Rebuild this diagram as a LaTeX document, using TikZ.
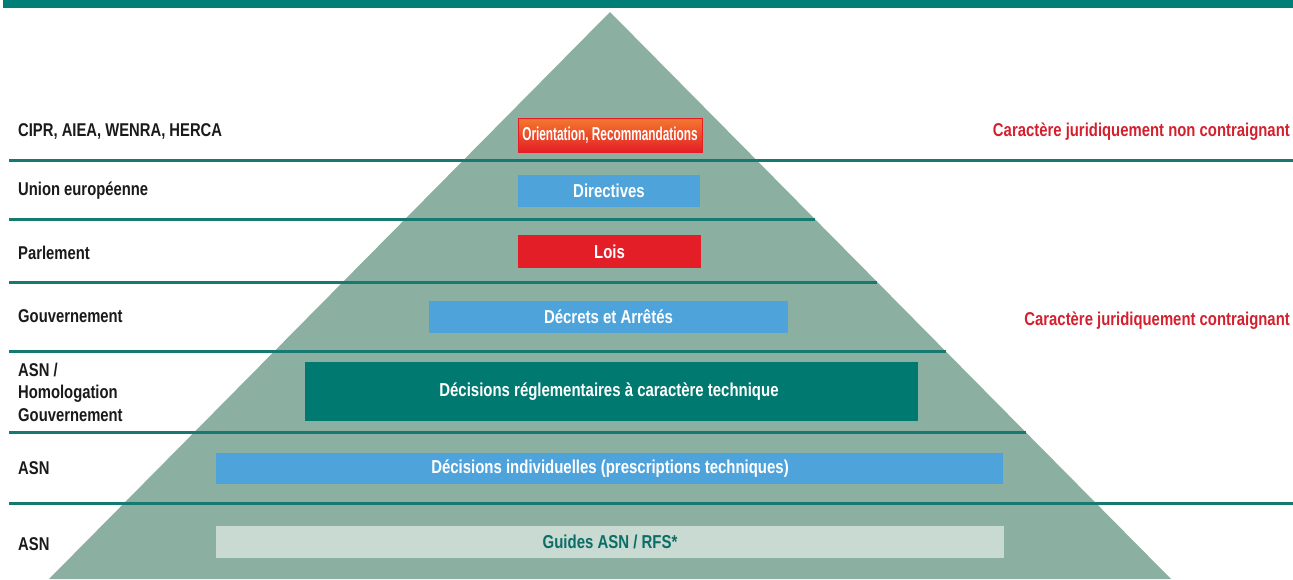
\documentclass[tikz,border=0pt]{standalone}
\usepackage{fontspec}
\newfontfamily\cond[FakeStretch=0.8]{Liberation Sans}
\definecolor{barteal}{HTML}{007F79}
\definecolor{pyr}{HTML}{8BAFA0}
\definecolor{rule}{HTML}{177A70}
\definecolor{boxblue}{HTML}{4FA3DB}
\definecolor{boxred}{HTML}{E41E26}
\definecolor{boxorange}{HTML}{F4792E}
\definecolor{boxteal}{HTML}{007A70}
\definecolor{boxpale}{HTML}{C8DAD2}
\definecolor{guidetxt}{HTML}{0B6E66}
\definecolor{labeltxt}{HTML}{1A1A1A}
\definecolor{legalred}{HTML}{D4202E}
\tikzset{
  boxtext/.style={text=white, inner sep=0pt, font=\cond\bfseries\fontsize{18.7}{22}\selectfont},
  leftlabel/.style={anchor=west, inner sep=0pt, text=labeltxt, align=left,
    font=\cond\bfseries\fontsize{18.5}{22.5}\selectfont},
  rightlabel/.style={anchor=east, inner sep=0pt, text=legalred,
    font=\cond\bfseries\fontsize{18.6}{22}\selectfont},
  divider/.style={draw=rule, line width=3pt}
}
\begin{document}
\begin{tikzpicture}[x=1pt, y=-1pt]
\useasboundingbox (0,0) rectangle (1293,579);
% header band
\fill[barteal] (3,0) rectangle (1293,8);
% pyramid
\fill[pyr] (610,12) -- (1171,579) -- (49,579) -- cycle;
% level dividers
\draw[divider] (9,160) -- (1293,160);
\draw[divider] (9,219) -- (815,219);
\draw[divider] (9,282) -- (877,282);
\draw[divider] (9,351) -- (946,351);
\draw[divider] (9,432) -- (1026,432);
\draw[divider] (9,503) -- (1293,503);
% boxes
\shade[top color=boxorange, bottom color=boxred, draw=boxred] (518,118) rectangle (702,152);
\node[boxtext] (orient) at (610,135) {\scalebox{0.79}[1]{Orientation, Recommandations}};
\fill[boxblue] (518,175) rectangle (700,207);
\node[boxtext] (dir) at (609,191) {Directives};
\fill[boxred] (518,235) rectangle (701,268);
\node[boxtext] (lois) at (609.5,251.5) {Lois};
\fill[boxblue] (429,301) rectangle (788,333);
\node[boxtext] (decrets) at (608.5,317) {Décrets et Arrêtés};
\fill[boxteal] (305,362) rectangle (918,421);
\node[boxtext] (drt) at (609,391.5) {Décisions réglementaires à caractère technique};
\fill[boxblue] (216,453) rectangle (1003,484);
\node[boxtext] (di) at (610,468.5) {Décisions individuelles (prescriptions techniques)};
\fill[boxpale] (216,526) rectangle (1004,558);
\node[boxtext, text=guidetxt] (guides) at (610,542) {Guides ASN / RFS*};
% left labels
\node[leftlabel] (l1) at (18,131) {CIPR, AIEA, WENRA, HERCA};
\node[leftlabel] (l2) at (18,191) {Union européenne};
\node[leftlabel] (l3) at (18,253) {Parlement};
\node[leftlabel] (l4) at (18,316) {Gouvernement};
\node[leftlabel] (l5) at (18,392) {ASN /\\Homologation\\Gouvernement};
\node[leftlabel] (l6) at (18,468) {ASN};
\node[leftlabel] (l7) at (18,544) {ASN};
% right labels
\node[rightlabel] (r1) at (1290,132) {Caractère juridiquement non contraignant};
\node[rightlabel] (r2) at (1290,321) {Caractère juridiquement contraignant};
\end{tikzpicture}
\end{document}
